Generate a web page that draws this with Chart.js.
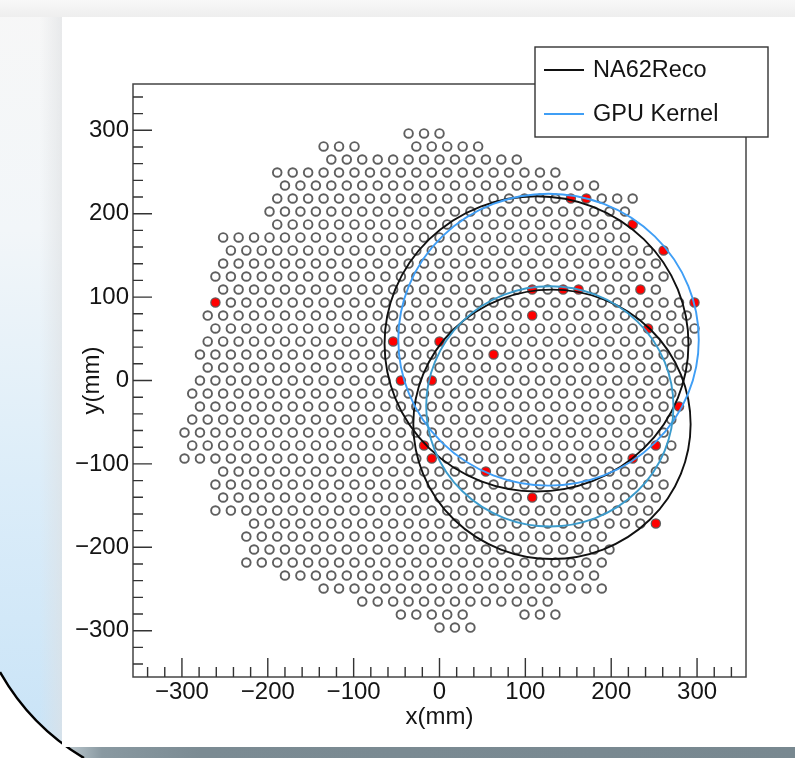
<!DOCTYPE html>
<html>
<head>
<meta charset="utf-8">
<title>RICH ring fit</title>
<script src="https://cdn.jsdelivr.net/npm/chart.js@4.4.1/dist/chart.umd.min.js"></script>
<style>
  html, body { margin: 0; padding: 0; }
  body {
    width: 795px; height: 758px; overflow: hidden; position: relative;
    background: linear-gradient(to bottom, #f7f7f7 0px, #f2f6f9 230px, #dcedf9 480px, #c8e3f7 758px);
  }
  #topbar { position: absolute; left: 0; top: 0; width: 795px; height: 17px;
    background: linear-gradient(to bottom, #f8f8f8, #eeeeee); }
  #shade { position: absolute; left: 40px; top: 17px; width: 22px; height: 731px;
    background: linear-gradient(to right, rgba(225,225,225,0), rgba(222,224,226,0.6)); }
  #bottombar { position: absolute; left: 62px; top: 747px; width: 733px; height: 11px;
    background: linear-gradient(to right, #c4d0d6 0px, #8999a1 40px, #7b8b93 140px, #788890 100%); }
  #corner { position: absolute; left: 0; top: 0; }
  #panel { position: absolute; left: 62px; top: 17px; width: 733px; height: 730px; background: #fff; }
</style>
</head>
<body>
<div id="topbar"></div>
<div id="shade"></div>
<div id="bottombar"></div>
<svg id="corner" width="795" height="758">
  <path d="M0,672 A234,234 0 0,0 84,758 L0,758 Z" fill="#fff"/>
  <path d="M0,672 A234,234 0 0,0 84,758" fill="none" stroke="#000" stroke-width="2.5"/>
</svg>
<div id="panel"><canvas id="ringChart" width="733" height="730"></canvas></div>
<script>
// PMT rows of the hexagonal grid (mm), top row first
const pmtPitch = 18;
const rowY = [296.2, 280.6, 265.0, 249.4, 233.8, 218.2, 202.6, 187.1, 171.5, 155.9,
  140.3, 124.7, 109.1, 93.5, 77.9, 62.4, 46.8, 31.2, 15.6, 0,
  -15.6, -31.2, -46.8, -62.4, -77.9, -93.5, -109.1, -124.7, -140.3, -155.9,
  -171.5, -187.1, -202.6, -218.2, -233.8, -249.4, -265.0, -280.6, -296.2];
const rowFirstX = [-36, -135, -126, -189, -180, -189, -198, -189, -252, -243,
  -252, -261, -252, -261, -270, -261, -270, -279, -270, -279,
  -288, -279, -288, -297, -288, -297, -252, -261, -252, -261,
  -216, -225, -216, -225, -180, -135, -90, -45, 0];
const rowLastX = [0, 45, 90, 135, 180, 225, 216, 225, 216, 261,
  252, 261, 252, 297, 288, 297, 288, 279, 288, 279,
  270, 279, 270, 261, 270, 261, 252, 261, 252, 243,
  252, 189, 198, 189, 180, 189, 126, 135, 36];
// missing PMTs inside a row
const gapRowY = [280.6, -280.6];
const gapFromX = [-81, 45];
const gapToX = [-45, 81];

// fired PMTs (red)
const hitX = [-261, 297, -54, 0, -45, -9, -18, 252, -9, 225, 54, 108, 108, 63,
  108, 144, 162, 234, 153, 171, 225, 261, 243, 279, 252];
const hitY = [93.5, 93.5, 46.8, 46.8, 0, 0, -77.9, -77.9, -93.5, -93.5, -109.1, -140.3, 77.9, 31.2,
  109.1, 109.1, 109.1, 109.1, 218.2, 218.2, 187.1, 155.9, 62.4, -31.2, -171.5];

// fitted rings: centre x, centre y, radius (mm)
const ringX = [113, 131, 127, 128.5];
const ringY = [44, -52.5, 49, -31];
const ringR = [177, 161.5, 175, 144];
const ringColor = ['#111111', '#111111', '#3f9ef5', '#3b9bcc'];

const legendLabels = ['NA62Reco', 'GPU Kernel'];
const legendColors = ['#111111', '#3f9ef5'];

const xTickValues = [-300, -200, -100, 0, 100, 200, 300];
const yTickValues = [-300, -200, -100, 0, 100, 200, 300];

// build PMT point list from the rows
var pmtPoints = [];
for (let i = 0; i < rowY.length; i++) {
  for (let x = rowFirstX[i]; x <= rowLastX[i]; x += pmtPitch) {
    let skip = false;
    for (let g = 0; g < gapRowY.length; g++) {
      if (gapRowY[g] === rowY[i] && x >= gapFromX[g] && x <= gapToX[g]) skip = true;
    }
    if (!skip) pmtPoints.push({x: x, y: rowY[i]});
  }
}
var hitPoints = hitX.map((x, i) => ({x: x, y: hitY[i]}));

var fontFamily = '"Liberation Sans", Arial, Helvetica, sans-serif';
var textColor = '#141414';
var minus = v => (v < 0 ? '\u2212' + Math.abs(v) : '' + v);

// frame, inward ticks, rings and legend in ROOT style
var rootStyle = {
  id: 'rootStyle',
  afterDatasetsDraw(chart) {
    const {ctx, chartArea: a, scales: {x, y}} = chart;
    ctx.save();
    ctx.beginPath();
    ctx.rect(a.left, a.top, a.right - a.left, a.bottom - a.top);
    ctx.clip();
    ctx.lineWidth = 1.9;
    for (let i = 0; i < ringX.length; i++) {
      const cx = x.getPixelForValue(ringX[i]);
      const cy = y.getPixelForValue(ringY[i]);
      const rx = x.getPixelForValue(ringX[i] + ringR[i]) - cx;
      const ry = cy - y.getPixelForValue(ringY[i] + ringR[i]);
      ctx.beginPath();
      ctx.ellipse(cx, cy, rx, ry, 0, 0, Math.PI * 2);
      ctx.strokeStyle = ringColor[i];
      ctx.stroke();
    }
    ctx.restore();
  },
  afterDraw(chart) {
    const {ctx, chartArea: a, scales: {x, y}} = chart;
    ctx.save();
    // frame
    ctx.strokeStyle = '#444';
    ctx.lineWidth = 1.5;
    ctx.strokeRect(a.left, a.top, a.right - a.left, a.bottom - a.top);
    // ticks every 20 mm, long at every 100 mm
    ctx.lineWidth = 1.4;
    ctx.strokeStyle = '#333';
    ctx.beginPath();
    for (let v = -340; v <= 340; v += 20) {
      const major = v % 100 === 0;
      const px = x.getPixelForValue(v);
      ctx.moveTo(px, a.bottom);
      ctx.lineTo(px, a.bottom - (major ? 19 : 10));
      const py = y.getPixelForValue(v);
      ctx.moveTo(a.left, py);
      ctx.lineTo(a.left + (major ? 19 : 10), py);
    }
    ctx.stroke();

    // legend box
    const bx = 473, by = 30, bw = 233, bh = 90;
    ctx.fillStyle = '#fff';
    ctx.fillRect(bx, by, bw, bh);
    ctx.strokeStyle = '#333';
    ctx.lineWidth = 1.4;
    ctx.strokeRect(bx, by, bw, bh);
    ctx.font = '23.5px ' + fontFamily;
    ctx.textBaseline = 'middle';
    ctx.textAlign = 'left';
    legendLabels.forEach((lab, i) => {
      const ly = by + 23 + i * 44;
      ctx.beginPath();
      ctx.moveTo(bx + 9, ly);
      ctx.lineTo(bx + 49, ly);
      ctx.strokeStyle = legendColors[i];
      ctx.lineWidth = 2.2;
      ctx.stroke();
      ctx.fillStyle = textColor;
      ctx.fillText(lab, bx + 58, ly + 1);
    });
    ctx.restore();
  }
};

var ctx = document.getElementById('ringChart').getContext('2d');
var ringChart = new Chart(ctx, {
  type: 'scatter',
  data: {
    datasets: [
      {
        label: 'hits',
        data: hitPoints,
        pointRadius: 4,
        pointBorderWidth: 0,
        pointBackgroundColor: '#ff0000',
        order: 1
      },
      {
        label: 'PMT',
        data: pmtPoints,
        pointRadius: 4.3,
        pointBorderWidth: 1.9,
        pointBorderColor: '#5f5f5f',
        pointBackgroundColor: 'rgba(0,0,0,0)',
        order: 2
      }
    ]
  },
  options: {
    responsive: false,
    animation: false,
    devicePixelRatio: 1,
    events: [],
    layout: { padding: { left: 0, right: 49, top: 67, bottom: 0 } },
    plugins: { legend: { display: false }, tooltip: { enabled: false } },
    scales: {
      x: {
        type: 'linear',
        min: -357, max: 357,
        afterFit: s => { s.height = 70; },
        afterBuildTicks: s => { s.ticks = xTickValues.map(v => ({value: v})); },
        grid: { display: false, drawTicks: false },
        border: { display: false },
        ticks: { font: { family: fontFamily, size: 24 }, color: textColor, padding: 1,
                 maxRotation: 0, autoSkip: false, callback: minus },
        title: { display: true, text: 'x(mm)', font: { family: fontFamily, size: 24 },
                 color: textColor, padding: { top: 0, bottom: 15 } }
      },
      y: {
        type: 'linear',
        min: -355.5, max: 355.5,
        afterFit: s => { s.width = 71; },
        afterBuildTicks: s => { s.ticks = yTickValues.map(v => ({value: v})); },
        grid: { display: false, drawTicks: false },
        border: { display: false },
        ticks: { font: { family: fontFamily, size: 24 }, color: textColor, padding: 4,
                 autoSkip: false, callback: minus },
        title: { display: true, text: 'y(mm)', font: { family: fontFamily, size: 24 },
                 color: textColor, padding: { top: 16, bottom: 0 } }
      }
    }
  },
  plugins: [rootStyle]
});
</script>
</body>
</html>
